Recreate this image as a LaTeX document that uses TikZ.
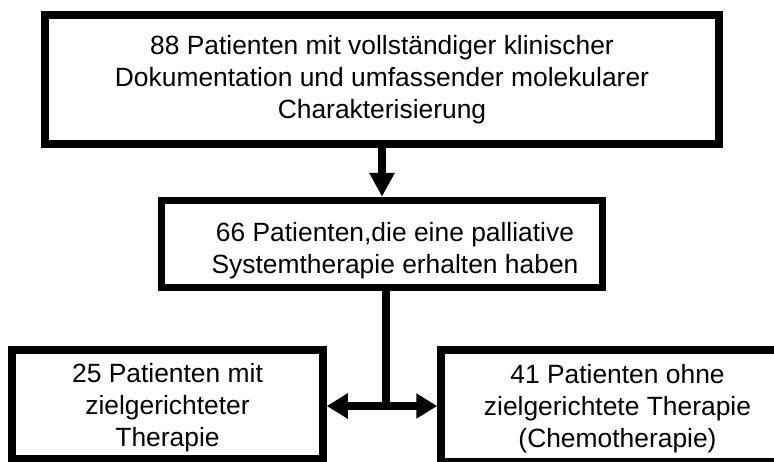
\documentclass[tikz,border=0pt]{standalone}
\usepackage{fontspec}
\setmainfont{Liberation Sans}
\usetikzlibrary{positioning,arrows.meta}

\begin{document}
\begin{tikzpicture}[x=1pt,y=-1pt,
  box/.style={draw, rectangle, line width=7.5pt, align=center, inner sep=0pt, font=\fontsize{26.4}{32}\selectfont},
  flow/.style={line width=7.5pt, -{Triangle[width=24pt,length=24pt]}}]
\useasboundingbox (0,0) rectangle (774,461);
\clip (0,0) rectangle (774,461);
% Define nodes
\node[box, minimum width=674pt, minimum height=129pt] (all) at (382,79.5) {88 Patienten mit vollständiger klinischer\\Dokumentation und umfassender molekularer\\Charakterisierung};
\node[box, minimum width=441pt, minimum height=87pt, below=49pt of all] (palliativ) {\hspace*{26pt}\rule{0pt}{33pt}66 Patienten,die eine palliative\\\hspace*{26pt}Systemtherapie erhalten haben};
\node[box, minimum width=311pt, minimum height=109pt] (ziel) at (167.5,404.5) {\rule{0pt}{25pt}25 Patienten mit\\zielgerichteter\\Therapie};
\node[box, minimum width=353pt, minimum height=112pt] (chemo) at (617.5,406) {\rule{0pt}{25pt}41 Patienten ohne\\zielgerichtete Therapie\\(Chemotherapie)};
\coordinate (split) at (386,406);

% Draw arrows
\draw[flow] (all) -- (palliativ);
\draw[line width=7.5pt, line cap=rect] (split |- palliativ.south) -- (split);
\draw[flow, {Triangle[width=24pt,length=21pt]}-{Triangle[width=24pt,length=21pt]}] (ziel.east |- split) -- (chemo.west |- split);

\end{tikzpicture}
\end{document}
